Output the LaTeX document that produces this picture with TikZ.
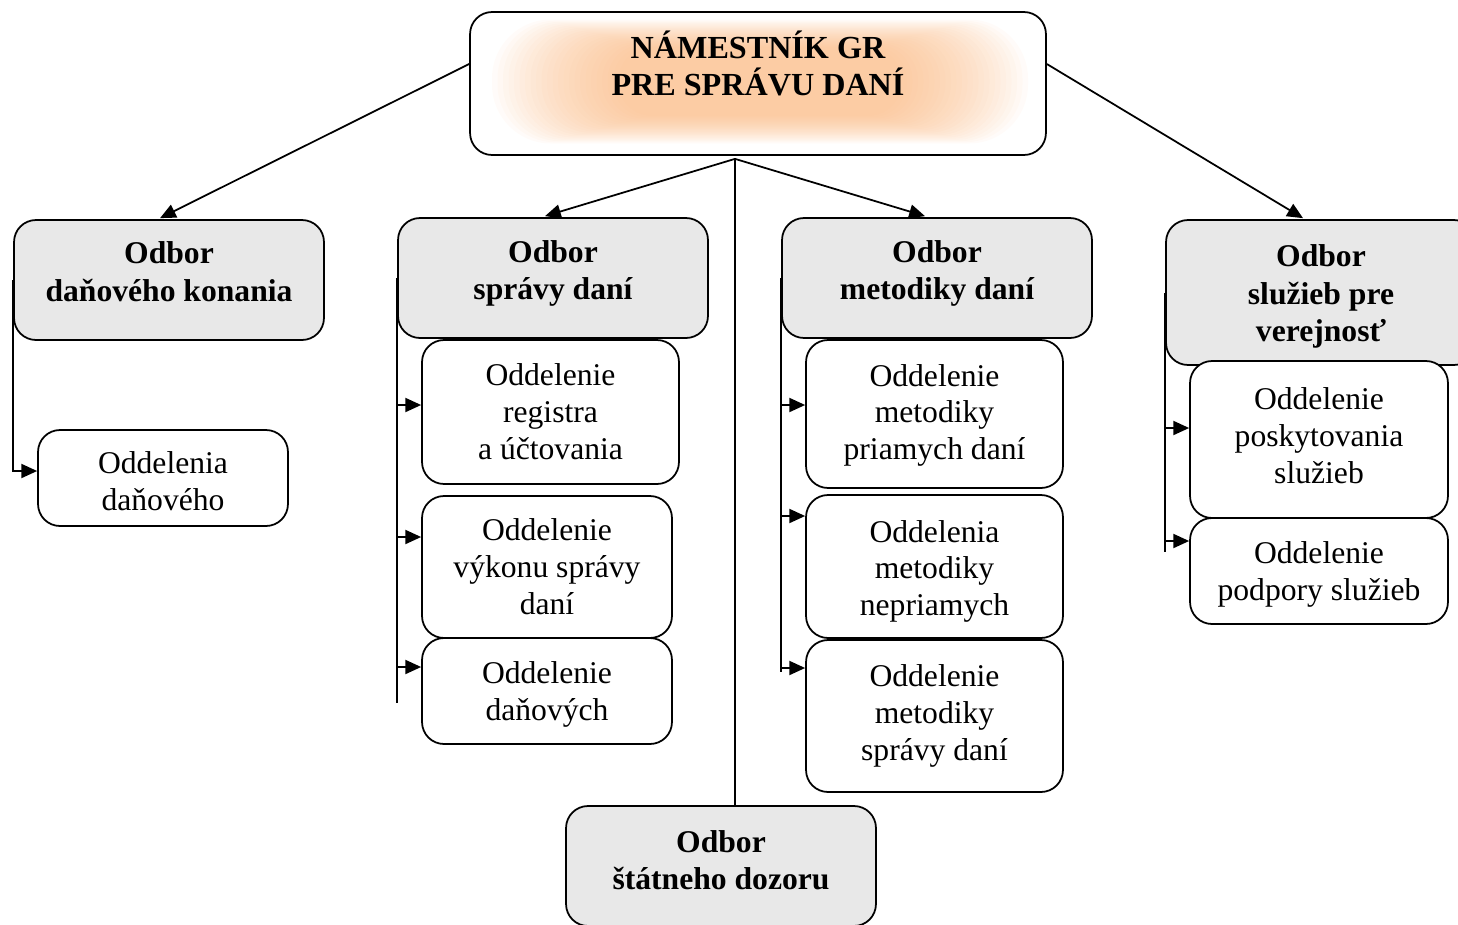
\documentclass[tikz,border=0pt]{standalone}
\usepackage{fontspec}
\setmainfont{Liberation Serif}
\usetikzlibrary{arrows.meta,calc,backgrounds}
\definecolor{glowc}{RGB}{250,180,122}
\definecolor{odborfill}{RGB}{232,232,232}
\newcommand\dn[1]{\rule{0pt}{#1}}
\tikzset{
  box/.style={draw, rounded corners=0.44cm, line width=1pt, align=center, inner sep=0pt},
  odbor/.style={box, fill=odborfill, font=\bfseries\fontsize{18}{21.5}\selectfont, minimum width=6.2cm, minimum height=2.4cm},
  oddel/.style={box, fill=white, font=\fontsize{18}{21}\selectfont},
  arr/.style={line width=1pt, -{Triangle[length=9pt,width=8pt]}},
  ln/.style={line width=1pt}
}
\begin{document}
\begin{tikzpicture}[x=0.02cm,y=-0.02cm]
\useasboundingbox (0,0) rectangle (1458,924);
% top
\node[box, minimum width=11.52cm, minimum height=2.86cm, text depth=0.8cm, font=\bfseries\fontsize{18.3}{21}\selectfont] (top) at (758,83.5) {NÁMESTNÍK GR\\PRE SPRÁVU DANÍ};
\begin{scope}[on background layer]
\foreach \i in {0,...,23}{
  \pgfmathsetmacro\hw{268-5.5*\i}
  \pgfmathsetmacro\hh{62-1.2*\i}
  \pgfmathsetmacro\rc{0.019*\hh}
  \fill[glowc, fill opacity=0.046, rounded corners=\rc cm] ($(top.center)+(2-\hw,-2-\hh)$) rectangle ($(top.center)+(2+\hw,-2+\hh)$);
}
\end{scope}
% odbory
\node[odbor, text depth=0.33cm] (o1) at (169,280) {Odbor\\daňového konania};
\node[odbor, text depth=0.32cm] (o2) at (553,278) {Odbor\\správy daní};
\node[odbor, text depth=0.32cm] (o3) at (937,278) {Odbor\\metodiky daní};
\node[odbor, minimum height=2.9cm] (o4) at (1321,292.5) {\dn{17pt}Odbor\\služieb pre\\verejnosť};
\node[odbor, text depth=0.24cm] (o5) at (721,866) {Odbor\\štátneho dozoru};
% oddelenia
\node[oddel, minimum width=5.0cm, minimum height=1.92cm] (c1) at (163,478) {\dn{16pt}Oddelenia\\daňového};
\node[oddel, minimum width=5.14cm, minimum height=2.88cm] (c2a) at (550.5,412) {Oddelenie\\registra\\a účtovania};
\node[oddel, minimum width=5.0cm, minimum height=2.84cm] (c2b) at (547,567) {Oddelenie\\výkonu správy\\daní};
\node[oddel, minimum width=5.0cm, minimum height=2.12cm] (c2c) at (547,691) {\dn{16pt}Oddelenie\\daňových};
\node[oddel, minimum width=5.14cm, minimum height=2.96cm] (c3a) at (934.5,414) {\dn{14pt}Oddelenie\\metodiky\\priamych daní};
\node[oddel, minimum width=5.14cm, minimum height=2.86cm] (c3b) at (934.5,566.5) {\dn{18pt}Oddelenia\\metodiky\\nepriamych};
\node[oddel, minimum width=5.14cm, minimum height=3.04cm] (c3c) at (934.5,716) {Oddelenie\\metodiky\\správy daní};
\node[oddel, minimum width=5.16cm, minimum height=3.14cm, text depth=0.16cm] (c4a) at (1319,439.5) {Oddelenie\\poskytovania\\služieb};
\node[oddel, minimum width=5.16cm, minimum height=2.12cm] (c4b) at (1319,571) {\dn{16pt}Oddelenie\\podpory služieb};
% top connectors
\coordinate (hub) at ($(top.south)+(-23,3)$);
\draw[arr] ($(top.west)+(0,-19.5)$) -- ($(o1.north)+(-9,-1)$);
\draw[arr] ($(top.east)+(0,-19.5)$) -- ($(o4.north)+(-18,-1)$);
\draw[arr] (hub) -- ($(o2.north)+(-8,-1)$);
\draw[arr] (hub) -- ($(o3.north)+(-12,-1)$);
\draw[ln] (hub) -- (hub |- o5.north);
% branch 1
\coordinate (a1) at ($(c1.west)+(0,-7)$);
\draw[arr] (o1.west) |- (a1);
% branch 2
\coordinate (a2a) at ($(c2a.west)+(0,-7)$);
\coordinate (a2b) at ($(c2b.west)+(0,-30)$);
\coordinate (a2c) at ($(c2c.west)+(0,-24)$);
\draw[ln] (o2.west) -- ($(o2.west |- c2c.center)+(0,12)$);
\draw[arr] (o2.west |- a2a) -- (a2a);
\draw[arr] (o2.west |- a2b) -- (a2b);
\draw[arr] (o2.west |- a2c) -- (a2c);
% branch 3
\coordinate (a3a) at ($(c3a.west)+(0,-9)$);
\coordinate (a3b) at ($(c3b.west)+(0,-50.5)$);
\coordinate (a3c) at ($(c3c.west)+(0,-48)$);
\draw[ln] (o3.west) -- ($(o3.west |- a3c)+(0,4)$);
\draw[arr] (o3.west |- a3a) -- (a3a);
\draw[arr] (o3.west |- a3b) -- (a3b);
\draw[arr] (o3.west |- a3c) -- (a3c);
% branch 4
\coordinate (a4a) at ($(c4a.west)+(0,-11.5)$);
\coordinate (a4b) at ($(c4b.west)+(0,-30)$);
\draw[ln] (o4.west) -- ($(o4.west |- a4b)+(0,11)$);
\draw[arr] (o4.west |- a4a) -- (a4a);
\draw[arr] (o4.west |- a4b) -- (a4b);
\end{tikzpicture}
\end{document}
